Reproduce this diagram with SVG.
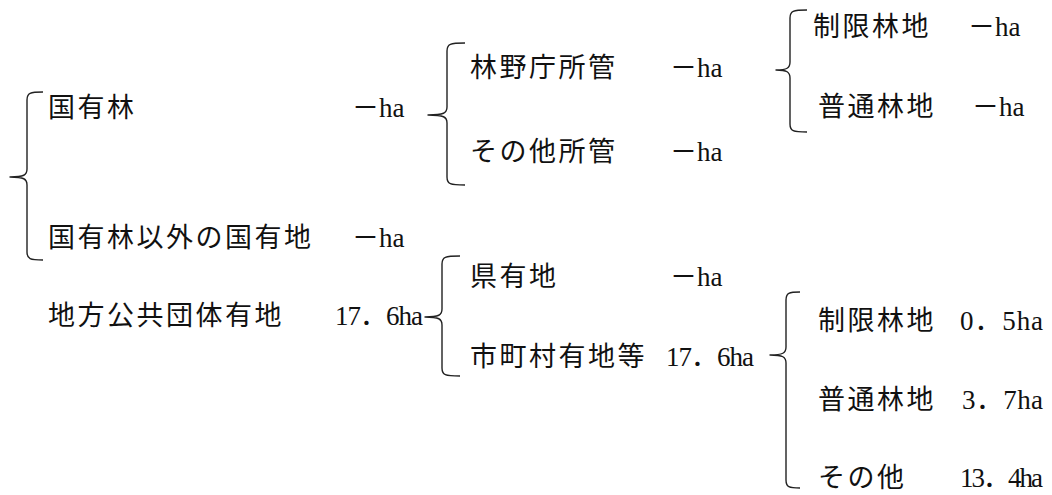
<svg xmlns="http://www.w3.org/2000/svg" width="1052" height="495" viewBox="0 0 1052 495">
<style>
text{font-family:"Liberation Serif","Noto Sans CJK JP",serif;font-size:27px;fill:#111;letter-spacing:2.5px}
text.v{letter-spacing:0}
.br{fill:none;stroke:#222;stroke-width:1.4;stroke-linejoin:round}
</style>
<rect width="1052" height="495" fill="#fff"/>
<g id="connectors">
<path class="br" d="M43,92 C30,92 27,93 27,100 L27,169 C27,175 24,177 10,177 C24,177 27,179 27,185 L27,252 C27,259 30,260 43,260"/>
<path class="br" d="M465,43 C450,43 447,44 447,51 L447,107 C447,113 444,115 428,115 C444,115 447,117 447,123 L447,177 C447,184 450,185 465,185"/>
<path class="br" d="M807,10 C793,10 790,11 790,18 L790,62 C790,68 787,70 776,70 C787,70 790,72 790,78 L790,124 C790,131 793,132 807,132"/>
<path class="br" d="M460,256 C445,256 442,257 442,264 L442,309 C442,315 439,317 425,317 C439,317 442,319 442,325 L442,368 C442,375 445,376 460,376"/>
<path class="br" d="M800,292 C789,292 786,293 786,300 L786,347 C786,353 783,355 770,355 C783,355 786,357 786,363 L786,480 C786,487 789,488 800,488"/>
</g>
<g id="n-kokuyurin"><text x="48" y="117">国有林</text><text class="v" x="352" y="117">－ha</text></g>
<g id="n-kokuyuchi"><text x="48" y="247">国有林以外の国有地</text><text class="v" x="352" y="247">－ha</text></g>
<g id="n-chiho"><text x="48" y="325">地方公共団体有地</text><text class="v" x="335" y="325" textLength="88">17．6ha</text></g>
<g id="n-rinyacho"><text x="470" y="77">林野庁所管</text><text class="v" x="670" y="77">－ha</text></g>
<g id="n-sonota-shokan"><text x="470" y="161">その他所管</text><text class="v" x="670" y="161">－ha</text></g>
<g id="n-kenyu"><text x="470" y="286">県有地</text><text class="v" x="670" y="286">－ha</text></g>
<g id="n-shichoson"><text x="470" y="366">市町村有地等</text><text class="v" x="666" y="366" textLength="88">17．6ha</text></g>
<g id="n-seigen1"><text x="813" y="36">制限林地</text><text class="v" x="968" y="36">－ha</text></g>
<g id="n-futsu1"><text x="818" y="116">普通林地</text><text class="v" x="972" y="116">－ha</text></g>
<g id="n-seigen2"><text x="818" y="330">制限林地</text><text class="v" x="960" y="330" textLength="83">0．5ha</text></g>
<g id="n-futsu2"><text x="818" y="409">普通林地</text><text class="v" x="962" y="409" textLength="81">3．7ha</text></g>
<g id="n-sonota"><text x="818" y="487">その他</text><text class="v" x="960" y="487" textLength="83">13．4ha</text></g>
</svg>
